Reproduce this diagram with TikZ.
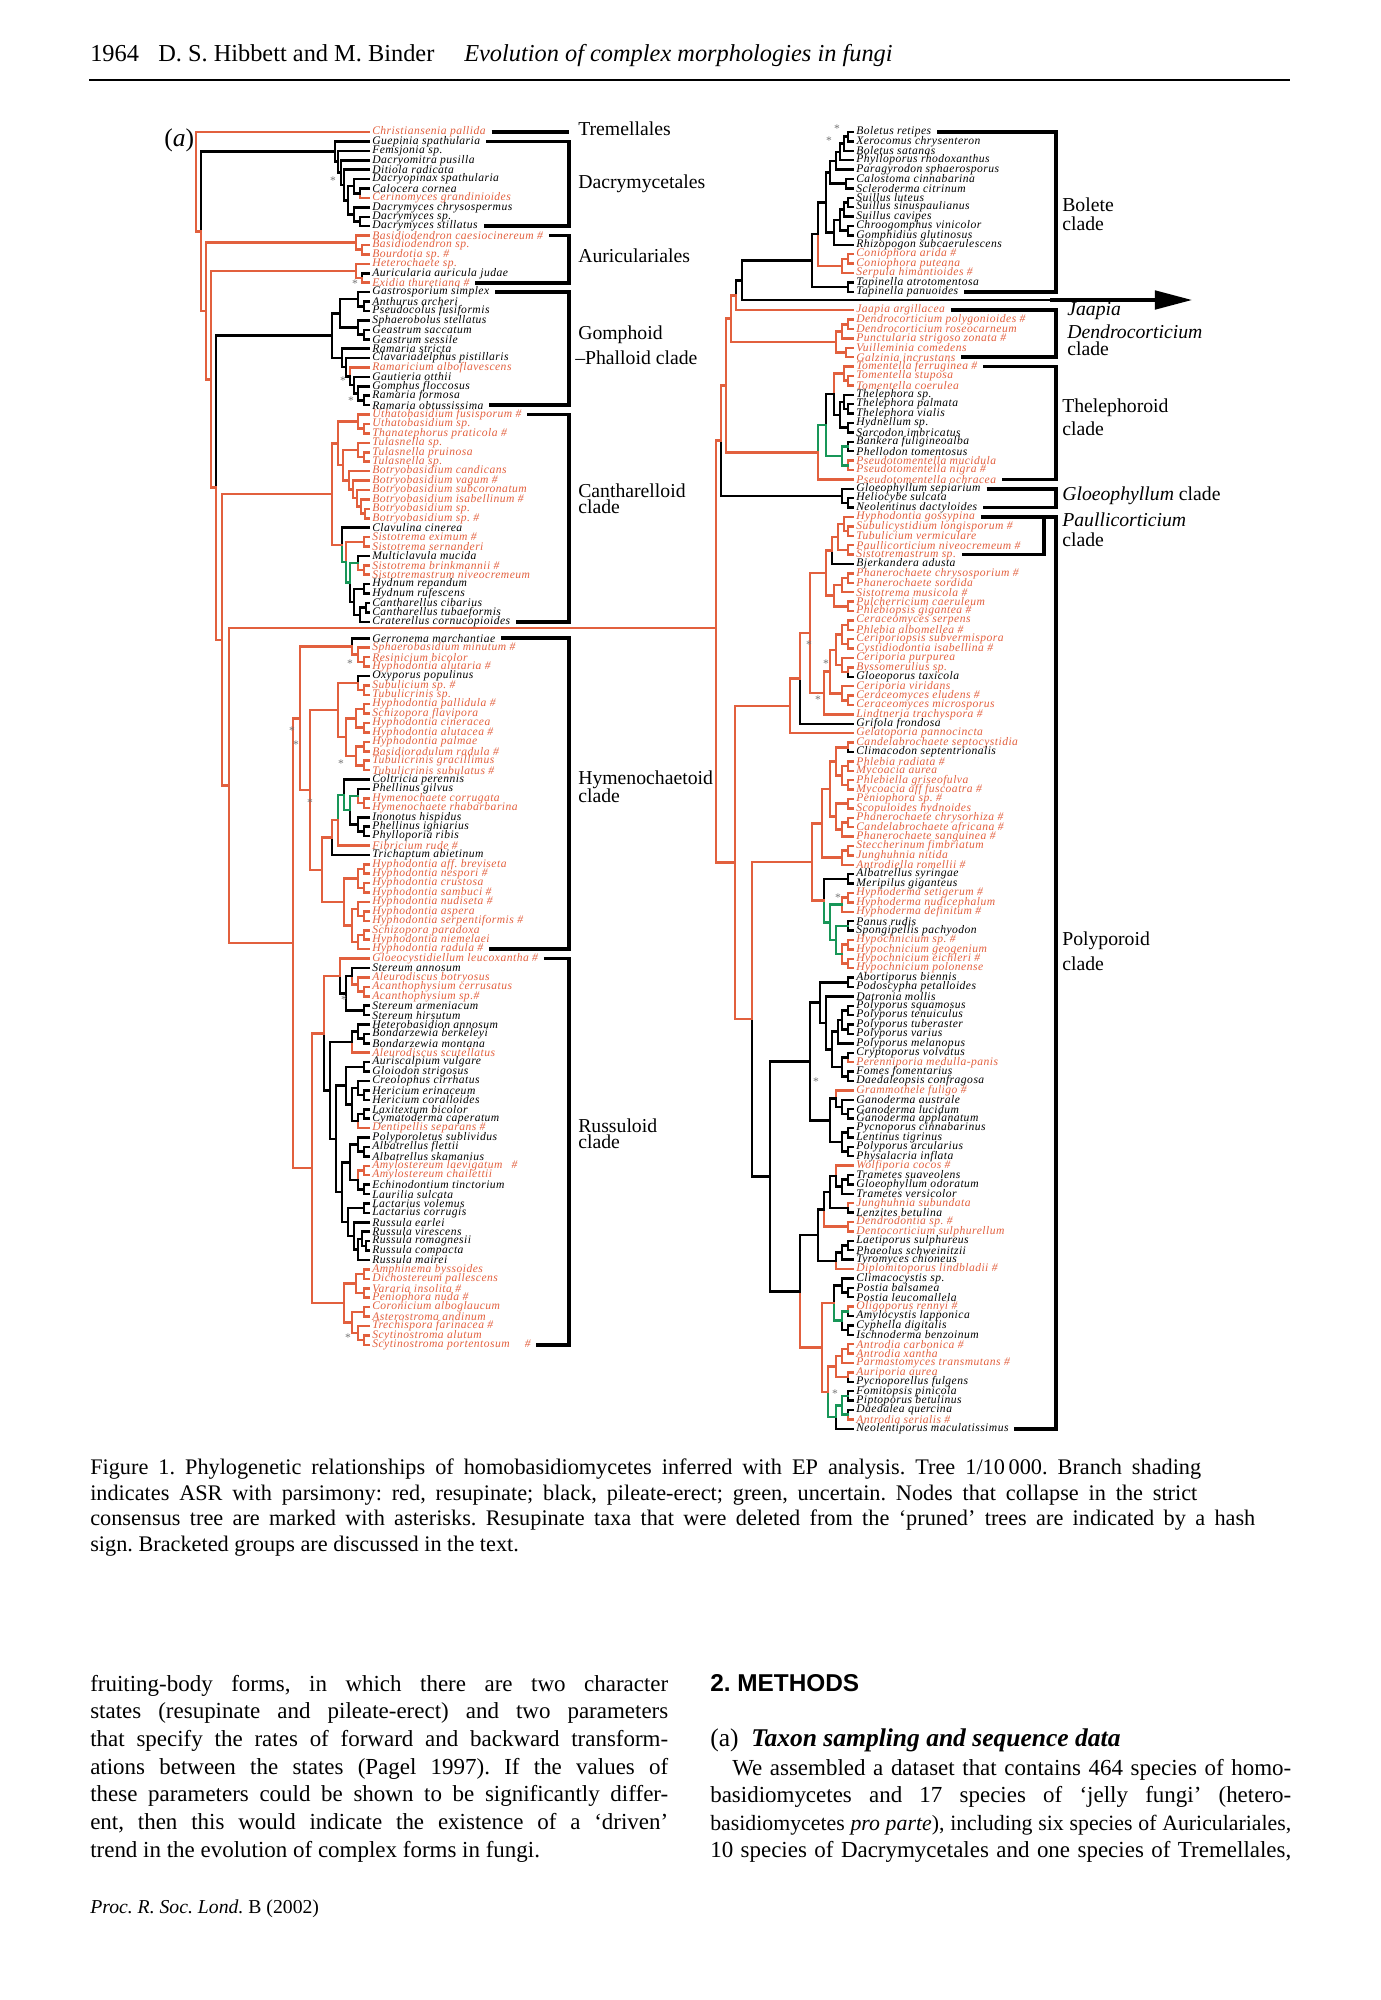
\documentclass[tikz,border=0pt]{standalone}
\usepackage{fontspec}
\setmainfont{Liberation Serif}
\setsansfont{Liberation Sans}
\newfontfamily\taxfont[LetterSpace=4]{Liberation Serif}
\usetikzlibrary{arrows.meta}
\frenchspacing

\definecolor{rd}{RGB}{226,96,62}
\definecolor{gn}{RGB}{24,150,88}
\colorlet{bk}{black}

\tikzset{every picture/.style={line width=1.1pt}}
\tikzset{
  taxon/.style={anchor=west,inner sep=0pt,font=\taxfont\itshape\fontsize{5}{6}\selectfont},
  brk/.style={line width=1.6pt,black},
  clab/.style={anchor=west,inner sep=0pt,font=\fontsize{8.5}{9}\selectfont},
  star/.style={inner sep=0pt,text=black!55,font=\fontsize{5}{5}\selectfont},
  txt/.style={anchor=base west,inner sep=0pt,font=\fontsize{9.9}{11.9}\selectfont},
}

% join two children at x: name, x, child a, child b, colour a, colour b
\newcommand\jn[6]{%
  \path (#3) -- (#4) coordinate[midway] (#1m);
  \coordinate (#1x) at (#2,0);
  \coordinate (#1) at (#1x |- #1m);
  \draw[color=#5,line cap=rect] (#3) -| (#1);
  \draw[color=#6,line cap=rect] (#4) -| (#1);}
\newcommand\jbox[2]{\makebox[#1][s]{#2}}

\begin{document}
\begin{tikzpicture}[x=0.431pt,y=0.431pt,yscale=-1,xscale=1]
\useasboundingbox (0,0) rectangle (1380,2000);

% Header
\node[txt,font=\fontsize{10.5}{12}\selectfont] (hdnum) at (89,61) {1964};
\node[txt,font=\fontsize{10.5}{12}\selectfont] (hdauth) at (157,61) {D. S. Hibbett and M. Binder};
\node[txt,font=\itshape\fontsize{10.5}{12}\selectfont] (hdtitle) at (463,61) {Evolution of complex morphologies in fungi};
\coordinate (rule1) at (89,80);
\coordinate (rule2) at (1290,80);
\draw[line width=0.8pt] (rule1) -- (rule2);

\node[txt,font=\fontsize{11}{12}\selectfont] (panel) at (163,146) {(\textit{a})};

% Taxa, left half
\foreach \i/\cl/\nm in {1/rd/Christiansenia pallida,2/bk/Guepinia spathularia,3/bk/Femsjonia sp.,4/bk/Dacryomitra pusilla,5/bk/Ditiola radicata,6/bk/Dacryopinax spathularia,7/bk/Calocera cornea,8/rd/Cerinomyces grandinioides,9/bk/Dacrymyces chrysospermus,10/bk/Dacrymyces sp.,11/bk/Dacrymyces stillatus,12/rd/Basidiodendron caesiocinereum \#,13/rd/Basidiodendron sp.,14/rd/Bourdotia sp. \#,15/rd/Heterochaete sp.,16/bk/Auricularia auricula judae,17/rd/Exidia thuretiana \#,18/bk/Gastrosporium simplex,19/bk/Anthurus archeri,20/bk/Pseudocolus fusiformis,21/bk/Sphaerobolus stellatus,22/bk/Geastrum saccatum,23/bk/Geastrum sessile,24/bk/Ramaria stricta,25/bk/Clavariadelphus pistillaris,26/rd/Ramaricium alboflavescens,27/bk/Gautieria otthii,28/bk/Gomphus floccosus,29/bk/Ramaria formosa,30/bk/Ramaria obtussissima,31/rd/Uthatobasidium fusisporum \#,32/rd/Uthatobasidium sp.,33/rd/Thanatephorus praticola \#,34/rd/Tulasnella sp.,35/rd/Tulasnella pruinosa,36/rd/Tulasnella sp.,37/rd/Botryobasidium candicans,38/rd/Botryobasidium vagum \#,39/rd/Botryobasidium subcoronatum,40/rd/Botryobasidium isabellinum \#,41/rd/Botryobasidium sp.,42/rd/Botryobasidium sp. \#,43/bk/Clavulina cinerea,44/rd/Sistotrema eximum \#,45/rd/Sistotrema sernanderi,46/bk/Multiclavula mucida,47/rd/Sistotrema brinkmannii \#,48/rd/Sistotremastrum niveocremeum,49/bk/Hydnum repandum,50/bk/Hydnum rufescens,51/bk/Cantharellus cibarius,52/bk/Cantharellus tubaeformis,53/bk/Craterellus cornucopioides,54/bk/Gerronema marchantiae,55/rd/Sphaerobasidium minutum \#,56/rd/Resinicium bicolor,57/rd/Hyphodontia alutaria \#,58/bk/Oxyporus populinus,59/rd/Subulicium sp. \#,60/rd/Tubulicrinis sp.,61/rd/Hyphodontia pallidula \#,62/rd/Schizopora flavipora,63/rd/Hyphodontia cineracea,64/rd/Hyphodontia alutacea \#,65/rd/Hyphodontia palmae,66/rd/Basidioradulum radula \#,67/rd/Tubulicrinis gracillimus,68/rd/Tubulicrinis subulatus \#,69/bk/Coltricia perennis,70/bk/Phellinus gilvus,71/rd/Hymenochaete corrugata,72/rd/Hymenochaete rhabarbarina,73/bk/Inonotus hispidus,74/bk/Phellinus igniarius,75/bk/Phylloporia ribis,76/rd/Fibricium rude \#,77/bk/Trichaptum abietinum,78/rd/Hyphodontia aff. breviseta,79/rd/Hyphodontia nespori \#,80/rd/Hyphodontia crustosa,81/rd/Hyphodontia sambuci \#,82/rd/Hyphodontia nudiseta \#,83/rd/Hyphodontia aspera,84/rd/Hyphodontia serpentiformis \#,85/rd/Schizopora paradoxa,86/rd/Hyphodontia niemelaei,87/rd/Hyphodontia radula \#,88/rd/Gloeocystidiellum leucoxantha \#,89/bk/Stereum annosum,90/rd/Aleurodiscus botryosus,91/rd/Acanthophysium cerrusatus,92/rd/Acanthophysium sp.\#,93/bk/Stereum armeniacum,94/bk/Stereum hirsutum,95/bk/Heterobasidion annosum,96/bk/Bondarzewia berkeleyi,97/bk/Bondarzewia montana,98/rd/Aleurodiscus scutellatus,99/bk/Auriscalpium vulgare,100/bk/Gloiodon strigosus,101/bk/Creolophus cirrhatus,102/bk/Hericium erinaceum,103/bk/Hericium coralloides,104/bk/Laxitextum bicolor,105/bk/Cymatoderma caperatum,106/rd/Dentipellis separans \#,107/bk/Polyporoletus sublividus,108/bk/Albatrellus flettii,109/bk/Albatrellus skamanius,110/rd/Amylostereum laevigatum \enspace\#,111/rd/Amylostereum chailettii,112/bk/Echinodontium tinctorium,113/bk/Laurilia sulcata,114/bk/Lactarius volemus,115/bk/Lactarius corrugis,116/bk/Russula earlei,117/bk/Russula virescens,118/bk/Russula romagnesii,119/bk/Russula compacta,120/bk/Russula mairei,121/rd/Amphinema byssoides,122/rd/Dichostereum pallescens,123/rd/Vararia insolita \#,124/rd/Peniophora nuda \#,125/rd/Coronicium alboglaucum,126/rd/Asterostroma andinum,127/rd/Trechispora farinacea \#,128/rd/Scytinostroma alutum,129/rd/Scytinostroma portentosum \quad\#}{
  \pgfmathsetmacro\yy{132+9.42*(\i-1)+7*(\i>53)}
  \coordinate (l\i) at (369,\yy);
  \node[taxon,text=\cl] (tl\i) at (371,\yy) {\nm};
}

% Taxa, right half
\foreach \i/\cl/\nm in {1/bk/Boletus retipes,2/bk/Xerocomus chrysenteron,3/bk/Boletus satanas,4/bk/Phylloporus rhodoxanthus,5/bk/Paragyrodon sphaerosporus,6/bk/Calostoma cinnabarina,7/bk/Scleroderma citrinum,8/bk/Suillus luteus,9/bk/Suillus sinuspaulianus,10/bk/Suillus cavipes,11/bk/Chroogomphus vinicolor,12/bk/Gomphidius glutinosus,13/bk/Rhizopogon subcaerulescens,14/rd/Coniophora arida \#,15/rd/Coniophora puteana,16/rd/Serpula himantioides \#,17/bk/Tapinella atrotomentosa,18/bk/Tapinella panuoides,19/rd/Jaapia argillacea,20/rd/Dendrocorticium polygonioides \#,21/rd/Dendrocorticium roseocarneum,22/rd/Punctularia strigoso zonata \#,23/rd/Vuilleminia comedens,24/rd/Galzinia incrustans,25/rd/Tomentella ferruginea \#,26/rd/Tomentella stuposa,27/rd/Tomentella coerulea,28/bk/Thelephora sp.,29/bk/Thelephora palmata,30/bk/Thelephora vialis,31/bk/Hydnellum sp.,32/bk/Sarcodon imbricatus,33/bk/Bankera fuligineoalba,34/bk/Phellodon tomentosus,35/rd/Pseudotomentella mucidula,36/rd/Pseudotomentella nigra \#,37/rd/Pseudotomentella ochracea,38/bk/Gloeophyllum sepiarium,39/bk/Heliocybe sulcata,40/bk/Neolentinus dactyloides,41/rd/Hyphodontia gossypina,42/rd/Subulicystidium longisporum \#,43/rd/Tubulicium vermiculare,44/rd/Paullicorticium niveocremeum \#,45/rd/Sistotremastrum sp.,46/bk/Bjerkandera adusta,47/rd/Phanerochaete chrysosporium \#,48/rd/Phanerochaete sordida,49/rd/Sistotrema musicola \#,50/rd/Pulcherricium caeruleum,51/rd/Phlebiopsis gigantea \#,52/rd/Ceraceomyces serpens,53/rd/Phlebia albomellea \#,54/rd/Ceriporiopsis subvermispora,55/rd/Cystidiodontia isabellina \#,56/rd/Ceriporia purpurea,57/rd/Byssomerulius sp.,58/bk/Gloeoporus taxicola,59/rd/Ceriporia viridans,60/rd/Ceraceomyces eludens \#,61/rd/Ceraceomyces microsporus,62/rd/Lindtneria trachyspora \#,63/bk/Grifola frondosa,64/rd/Gelatoporia pannocincta,65/rd/Candelabrochaete septocystidia,66/bk/Climacodon septentrionalis,67/rd/Phlebia radiata \#,68/rd/Mycoacia aurea,69/rd/Phlebiella griseofulva,70/rd/Mycoacia aff fuscoatra \#,71/rd/Peniophora sp. \#,72/rd/Scopuloides hydnoides,73/rd/Phanerochaete chrysorhiza \#,74/rd/Candelabrochaete africana \#,75/rd/Phanerochaete sanguinea \#,76/rd/Steccherinum fimbriatum,77/rd/Junghuhnia nitida,78/rd/Antrodiella romellii \#,79/bk/Albatrellus syringae,80/bk/Meripilus giganteus,81/rd/Hyphoderma setigerum \#,82/rd/Hyphoderma nudicephalum,83/rd/Hyphoderma definitum \#,84/bk/Panus rudis,85/bk/Spongipellis pachyodon,86/rd/Hypochnicium sp. \#,87/rd/Hypochnicium geogenium,88/rd/Hypochnicium eichleri \#,89/rd/Hypochnicium polonense,90/bk/Abortiporus biennis,91/bk/Podoscypha petalloides,92/bk/Datronia mollis,93/bk/Polyporus squamosus,94/bk/Polyporus tenuiculus,95/bk/Polyporus tuberaster,96/bk/Polyporus varius,97/bk/Polyporus melanopus,98/bk/Cryptoporus volvatus,99/rd/Perenniporia medulla-panis,100/bk/Fomes fomentarius,101/bk/Daedaleopsis confragosa,102/rd/Grammothele fuligo \#,103/bk/Ganoderma australe,104/bk/Ganoderma lucidum,105/bk/Ganoderma applanatum,106/bk/Pycnoporus cinnabarinus,107/bk/Lentinus tigrinus,108/bk/Polyporus arcularius,109/bk/Physalacria inflata,110/rd/Wolfiporia cocos \#,111/bk/Trametes suaveolens,112/bk/Gloeophyllum odoratum,113/bk/Trametes versicolor,114/rd/Junghuhnia subundata,115/bk/Lenzites betulina,116/rd/Dendrodontia sp. \#,117/rd/Dentocorticium sulphurellum,118/bk/Laetiporus sulphureus,119/bk/Phaeolus schweinitzii,120/bk/Tyromyces chioneus,121/rd/Diplomitoporus lindbladii \#,122/bk/Climacocystis sp.,123/bk/Postia balsamea,124/bk/Postia leucomallela,125/rd/Oligoporus rennyi \#,126/bk/Amylocystis lapponica,127/bk/Cyphella digitalis,128/bk/Ischnoderma benzoinum,129/rd/Antrodia carbonica \#,130/rd/Antrodia xantha,131/rd/Parmastomyces transmutans \#,132/rd/Auriporia aurea,133/bk/Pycnoporellus fulgens,134/bk/Fomitopsis pinicola,135/bk/Piptoporus betulinus,136/bk/Daedalea quercina,137/rd/Antrodia serialis \#,138/bk/Neolentiporus maculatissimus}{
  \pgfmathsetmacro\yy{132+9.4*(\i-1)+9*(\i>18)}
  \coordinate (r\i) at (853,\yy);
  \node[taxon,text=\cl] (tr\i) at (855,\yy) {\nm};
}

% Tree, left half
\foreach \nd/\px/\ca/\cb/\ka/\kb in {d1/360/l7/l8/bk/rd,d2/354/l6/d1/bk/bk,d3/360/l10/l11/bk/bk,d4/354/l9/d3/bk/bk,d5/348/d2/d4/bk/bk,d6/344/l5/d5/bk/bk,d7/341/l4/d6/bk/bk,d8/338/l3/d7/bk/bk,d9/335/l2/d8/bk/bk,
  a1/362/l13/l14/rd/rd,a2/356/l12/a1/rd/rd,a3/362/l16/l17/bk/rd,a4/356/l15/a3/rd/rd,
  g1/364/l19/l20/bk/bk,g2/358/l18/g1/bk/bk,g3/364/l22/l23/bk/bk,g4/358/l21/g3/bk/bk,g5/340/g2/g4/bk/bk,g6/364/l29/l30/bk/bk,g7/358/l28/g6/bk/bk,g8/354/l27/g7/bk/bk,g9/350/l26/g8/rd/bk,g10/346/l25/g9/bk/bk,g11/342/l24/g10/bk/bk,g12/332/g5/g11/bk/bk,
  c1/364/l32/l33/rd/rd,c2/358/l31/c1/rd/rd,c3/364/l35/l36/rd/rd,c4/358/l34/c3/rd/rd,c5/365/l41/l42/rd/rd,c6/361/l40/c5/rd/rd,c7/357/l39/c6/rd/rd,c8/353/l38/c7/rd/rd,c9/349/l37/c8/rd/rd,c10/343/c4/c9/rd/rd,c11/338/c2/c10/rd/rd,c12/364/l44/l45/rd/rd,c13/364/l47/l48/rd/rd,c14/358/l46/c13/bk/rd,c15/364/l49/l50/bk/bk,c16/366/l51/l52/bk/bk,c17/360/c16/l53/bk/bk,c18/354/c15/c17/bk/bk,c19/350/c14/c18/gn/bk,c20/346/c12/c19/rd/gn,c21/342/l43/c20/bk/gn,c22/332/c11/c21/rd/rd,
  h1/364/l56/l57/rd/rd,h2/358/l55/h1/rd/rd,h3/352/l54/h2/bk/rd,h4/364/l59/l60/rd/rd,h5/358/l58/h4/bk/rd,h6/364/l61/l62/rd/rd,h7/364/l63/l64/rd/rd,h8/356/h6/h7/rd/rd,h9/364/l65/l66/rd/rd,h10/364/l67/l68/rd/rd,h11/356/h9/h10/rd/rd,h12/346/h8/h11/rd/rd,h13/338/h5/h12/rd/rd,h14/364/l71/l72/rd/rd,h15/358/l70/h14/bk/rd,h16/364/l74/l75/bk/bk,h17/358/l73/h16/bk/bk,h18/350/h15/h17/gn/bk,h19/344/l69/h18/bk/gn,h20/338/h19/l76/gn/rd,h21/332/h20/l77/rd/bk,h22/364/l78/l79/rd/rd,h23/364/l80/l81/rd/rd,h24/358/h22/h23/rd/rd,h25/364/l83/l84/rd/rd,h26/358/l82/h25/rd/rd,h27/364/l85/l86/rd/rd,h28/358/h27/l87/rd/rd,h29/352/h26/h28/rd/rd,h30/344/h24/h29/rd/rd,h31/322/h21/h30/rd/rd,h32/310/h13/h31/rd/rd,h33/300/h3/h32/rd/rd,
  u1/364/l91/l92/rd/rd,u2/358/l90/u1/rd/rd,u3/352/l89/u2/bk/rd,u4/364/l93/l94/bk/bk,u5/346/u3/u4/bk/bk,u6/340/l88/u5/rd/bk,u7/364/l96/l97/bk/bk,u8/358/l95/u7/bk/bk,u9/352/u8/l98/bk/rd,u10/364/l99/l100/bk/bk,u11/364/l102/l103/bk/bk,u12/358/l101/u11/bk/bk,u13/364/l104/l105/bk/bk,u14/358/u13/l106/bk/rd,u15/352/u12/u14/bk/bk,u16/346/u10/u15/bk/bk,u17/364/l108/l109/bk/bk,u18/358/l107/u17/bk/bk,u19/364/l110/l111/rd/rd,u20/364/l112/l113/bk/bk,u21/358/u19/u20/rd/bk,u22/350/u18/u21/bk/bk,u23/364/l114/l115/bk/bk,u24/366/l118/l119/bk/bk,u25/362/l117/u24/bk/bk,u26/358/u25/l120/bk/bk,u27/354/l116/u26/bk/bk,u28/348/u23/u27/bk/bk,u29/342/u22/u28/bk/bk,u30/336/u16/u29/bk/bk,u31/330/u9/u30/bk/bk,u32/324/u6/u31/rd/bk,u33/364/l121/l122/rd/rd,u34/364/l123/l124/rd/rd,u35/356/u33/u34/rd/rd,u36/364/l125/l126/rd/rd,u37/364/l128/l129/rd/rd,u38/358/l127/u37/rd/rd,u39/352/u36/u38/rd/rd,u40/344/u35/u39/rd/rd,u41/312/u32/u40/rd/rd,
  hr/293/h33/u41/rd/rd}{
  \edef\tmp{\noexpand\jn{\nd}{\px}{\ca}{\cb}{\ka}{\kb}}\tmp
}

% Tree, right half
\coordinate (arrbase) at (1050,300);
\coordinate (arrtip) at (1192,300);
\foreach \nd/\px/\ca/\cb/\ka/\kb in {bo1/848/r1/r2/bk/bk,bo2/844/bo1/r3/bk/bk,bo3/840/bo2/r4/bk/bk,bo4/836/bo3/r5/bk/bk,bo5/846/r6/r7/bk/bk,bo6/830/bo4/bo5/bk/bk,bo7/848/r8/r9/bk/bk,bo8/844/bo7/r10/bk/bk,bo9/848/r11/r12/bk/bk,bo10/840/bo8/bo9/bk/bk,bo11/834/bo10/r13/bk/bk,bo12/826/bo6/bo11/bk/bk,bo13/848/r14/r15/rd/rd,bo14/842/bo13/r16/rd/rd,bo15/818/bo12/bo14/bk/rd,bo16/848/r17/r18/bk/bk,bo17/812/bo15/bo16/bk/bk,
  qa/742/bo17/arrbase/bk/bk,qb/736/qa/r19/bk/rd,
  dc1/848/r20/r21/rd/rd,dc2/842/dc1/r22/rd/rd,dc3/846/r23/r24/rd/rd,dc4/836/dc2/dc3/rd/rd,qc/731/qb/dc4/rd/rd,
  th1/848/r26/r27/rd/rd,th2/844/r25/th1/rd/rd,th3/848/r29/r30/bk/bk,th4/844/r28/th3/bk/bk,th5/848/r31/r32/bk/bk,th6/840/th4/th5/bk/bk,th7/834/th2/th6/rd/bk,th8/848/r33/r34/bk/bk,th9/848/r35/r36/rd/rd,th10/842/th8/th9/gn/gn,th11/826/th7/th10/bk/gn,th12/818/th11/r37/gn/rd,qd/726/qc/th12/rd/rd,
  gl1/848/r39/r40/bk/bk,gl2/842/r38/gl1/bk/bk,qe/721/qd/gl2/rd/bk,
  pa1/848/r42/r43/rd/rd,pa2/844/r41/pa1/rd/rd,pa3/848/r44/r45/rd/rd,pa4/838/pa2/pa3/rd/rd,pa5/832/pa4/r46/rd/bk,pb1/848/r47/r48/rd/rd,pb2/842/pb1/r49/rd/rd,pb3/848/r50/r51/rd/rd,pb4/834/pb2/pb3/rd/rd,pc1/826/pa5/pb4/rd/rd,
  pd1/848/r52/r53/rd/rd,pd2/848/r54/r55/rd/rd,pd3/842/pd1/pd2/rd/rd,pd4/848/r57/r58/rd/bk,pd5/842/r56/pd4/rd/rd,pd6/836/pd3/pd5/rd/rd,pd7/848/r60/r61/rd/rd,pd8/842/r59/pd7/rd/rd,pd9/830/pd6/pd8/rd/rd,pd10/824/pd9/r62/rd/rd,pe1/810/pc1/pd10/rd/rd,pe2/800/pe1/r63/rd/bk,pe3/790/pe2/r64/rd/rd,
  pf1/848/r65/r66/rd/bk,pf2/848/r67/r68/rd/rd,pf3/848/r69/r70/rd/rd,pf4/842/pf2/pf3/rd/rd,pf5/836/pf1/pf4/rd/rd,pf6/848/r71/r72/rd/rd,pf7/848/r73/r74/rd/rd,pf8/842/pf7/r75/rd/rd,pf9/836/pf6/pf8/rd/rd,pf10/830/pf5/pf9/rd/rd,pf11/848/r76/r77/rd/rd,pf12/842/pf11/r78/rd/rd,pf13/822/pf10/pf12/rd/rd,
  pg1/848/r79/r80/bk/bk,pg2/848/r81/r82/rd/rd,pg3/842/pg2/r83/rd/rd,pg4/848/r84/r85/bk/bk,pg5/848/r86/r87/rd/rd,pg6/848/r88/r89/rd/rd,pg7/842/pg5/pg6/rd/rd,pg8/836/pg4/pg7/gn/gn,pg9/830/pg3/pg8/gn/gn,pg10/824/pg1/pg9/bk/gn,pg11/812/pf13/pg10/rd/rd,
  ph1/848/r90/r91/bk/bk,ph2/848/r93/r94/bk/bk,ph3/848/r95/r96/bk/bk,ph4/842/ph2/ph3/bk/bk,ph5/838/ph4/r97/bk/bk,ph6/848/r98/r99/bk/rd,ph7/848/r100/r101/bk/bk,ph8/842/ph6/ph7/bk/bk,ph9/832/ph5/ph8/bk/bk,ph10/826/r92/ph9/bk/bk,ph11/820/ph1/ph10/bk/bk,ph12/848/r104/r105/bk/bk,ph13/842/r103/ph12/bk/bk,ph14/836/r102/ph13/rd/bk,ph15/848/r106/r107/bk/bk,ph16/848/r108/r109/bk/bk,ph17/842/ph15/ph16/bk/bk,ph18/830/ph14/ph17/bk/bk,ph19/810/ph11/ph18/bk/bk,
  pi1/848/r111/r112/bk/bk,pi2/842/pi1/r113/bk/bk,pi3/836/r110/pi2/rd/bk,pi4/848/r114/r115/rd/bk,pi5/830/pi3/pi4/bk/bk,pi6/848/r116/r117/rd/rd,pi7/824/pi5/pi6/bk/rd,pi8/848/r118/r119/bk/bk,pi9/842/pi8/r120/bk/bk,pi10/836/pi9/r121/bk/rd,pi11/818/pi7/pi10/bk/bk,
  pj1/848/r123/r124/bk/bk,pj2/842/r122/pj1/bk/bk,pj3/848/r125/r126/rd/bk,pj4/848/r127/r128/bk/bk,pj5/842/pj3/pj4/gn/bk,pj6/834/pj2/pj5/bk/gn,pj7/848/r129/r130/rd/rd,pj8/842/pj7/r131/rd/rd,pj9/848/r132/r133/rd/bk,pj10/836/pj8/pj9/rd/rd,pj11/848/r134/r135/bk/bk,pj12/848/r136/r137/bk/rd,pj13/842/pj11/pj12/gn/gn,pj14/836/pj13/r138/gn/bk,pj15/828/pj10/pj14/rd/gn,pj16/822/pj6/pj15/rd/rd,pj17/800/pi11/pj16/bk/rd,
  pk1/770/ph19/pj17/bk/bk,pk2/752/pg11/pk1/rd/bk,pk3/735/pe3/pk2/rd/rd}{
  \edef\tmp{\noexpand\jn{\nd}{\px}{\ca}{\cb}{\ka}{\kb}}\tmp
}
\draw[line width=1.4pt,-{Triangle[length=16pt,width=8pt]}] (arrbase) -- (arrtip);

% Root: right half joins the left backbone
\coordinate (rroot) at (716,628);
\draw[rd,line cap=rect] (qe) -| (rroot);
\draw[rd,line cap=rect] (pk3) -| (rroot);
\foreach \nd/\px/\ca/\cb/\ka/\kb in {k7/229/rroot/hr/rd/rd,k6/222/c22/k7/rd/rd,k5/216/g12/k6/bk/rd,k4/211/a4/k5/rd/rd,k3/206/a2/k4/rd/rd,k2/201/d9/k3/bk/rd,k1/196/l1/k2/rd/rd}{
  \edef\tmp{\noexpand\jn{\nd}{\px}{\ca}{\cb}{\ka}{\kb}}\tmp
}

% Asterisks
\foreach \sx/\sy [count=\k] in {333/181,355/284,343/381,351/401,350/664,292/731,296/745,310/803,341/764,344/1000,348/1338,837/129,829/141,809/645,826/664,818/700,838/898,816/1082,835/1394}
  \node[star] (st\k) at (\sx,\sy) {*};

% Brackets
\coordinate (brL) at (569,0);
\coordinate (brR) at (1056,0);
\coordinate (brP) at (1044,0);
\draw[brk] ([xshift=2pt]tl1.east) -- (tl1.east -| brL);
\foreach \p/\q in {2/11,12/17,18/30,31/53,54/87,88/129}
  \draw[brk] ([xshift=2pt]tl\p.east) -- (tl\p.east -| brL) -- (tl\q.east -| brL) -- ([xshift=2pt]tl\q.east);
\foreach \p/\q in {1/18,19/24,25/37,38/40,41/138}
  \draw[brk] ([xshift=2pt]tr\p.east) -- (tr\p.east -| brR) -- (tr\q.east -| brR) -- ([xshift=2pt]tr\q.east);
\draw[brk] (tr41.east -| brP) -- (tr45.east -| brP) -- ([xshift=2pt]tr45.east);

% Clade labels
\node[clab] (labTre) at (577,129) {Tremellales};
\node[clab] (labDac) at (577,184) {Dacrymycetales};
\node[clab] (labAur) at (577,256) {Auriculariales};
\node[clab] (labGom) at (577,335) {Gomphoid};
\node[clab] (labPha) at (574,358) {–Phalloid clade};
\node[clab] (labCan) at (577,491) {Cantharelloid};
\node[clab] (labCanb) at (577,507) {clade};
\node[clab] (labHym) at (577,780) {Hymenochaetoid};
\node[clab] (labHymb) at (577,796) {clade};
\node[clab] (labRus) at (577,1126) {Russuloid};
\node[clab] (labRusb) at (577,1142) {clade};
\node[clab] (labBol) at (1061,205) {Bolete};
\node[clab] (labBolb) at (1061,224) {clade};
\node[clab] (labJaa) at (1066,311) {\textit{Jaapia}};
\node[clab] (labDen) at (1066,332) {\textit{Dendrocorticium}};
\node[clab] (labJaab) at (1066,349) {clade};
\node[clab] (labThe) at (1061,408) {Thelephoroid};
\node[clab] (labTheb) at (1061,429) {clade};
\node[clab] (labGlo) at (1061,496) {\textit{Gloeophyllum} clade};
\node[clab] (labPau) at (1061,520) {\textit{Paullicorticium}};
\node[clab] (labPaub) at (1061,540) {clade};
\node[clab] (labPol) at (1061,941) {Polyporoid};
\node[clab] (labPolb) at (1061,964) {clade};

% Caption
\node[txt,font=\fontsize{9.6}{11.9}\selectfont] (cap1) at (89,1474) {\jbox{478.8pt}{Figure 1. Phylogenetic relationships of homobasidiomycetes inferred with EP analysis. Tree 1/10\,000. Branch shading}};
\node[txt,font=\fontsize{9.6}{11.9}\selectfont] (cap2) at (89,1500) {\jbox{477.1pt}{indicates ASR with parsimony: red, resupinate; black, pileate-erect; green, uncertain. Nodes that collapse in the strict}};
\node[txt,font=\fontsize{9.6}{11.9}\selectfont] (cap3) at (89,1525) {\jbox{502.1pt}{consensus tree are marked with asterisks. Resupinate taxa that were deleted from the ‘pruned’ trees are indicated by a hash}};
\node[txt,font=\fontsize{9.6}{11.9}\selectfont] (cap4) at (89,1551) {sign. Bracketed groups are discussed in the text.};

% Left column text
\node[txt] (bl1) at (89,1691) {\jbox{249.1pt}{fruiting-body forms, in which there are two character}};
\node[txt] (bl2) at (89,1718) {\jbox{249.1pt}{states (resupinate and pileate-erect) and two parameters}};
\node[txt] (bl3) at (89,1746) {\jbox{249.1pt}{that specify the rates of forward and backward transform-}};
\node[txt] (bl4) at (89,1774) {\jbox{249.1pt}{ations between the states (Pagel 1997). If the values of}};
\node[txt] (bl5) at (89,1801) {\jbox{249.1pt}{these parameters could be shown to be significantly differ-}};
\node[txt] (bl6) at (89,1829) {\jbox{249.1pt}{ent, then this would indicate the existence of a ‘driven’}};
\node[txt] (bl7) at (89,1857) {trend in the evolution of complex forms in fungi.};

% Right column text
\node[txt,font=\sffamily\bfseries\fontsize{10.5}{12}\selectfont] (meth) at (709,1691) {2. METHODS};
\node[txt,font=\fontsize{11}{12}\selectfont] (subh) at (709,1746) {(a)\enspace\textbf{\textit{Taxon sampling and sequence data}}};
\node[txt] (br1) at (731,1775) {\jbox{240.9pt}{We assembled a dataset that contains 464 species of homo-}};
\node[txt] (br2) at (709,1802) {\jbox{250.4pt}{basidiomycetes and 17 species of ‘jelly fungi’ (hetero-}};
\node[txt,font=\fontsize{9.4}{11.9}\selectfont] (br3) at (709,1830) {\jbox{250.4pt}{basidiomycetes \textit{pro parte}), including six species of Auriculariales,}};
\node[txt] (br4) at (709,1857) {\jbox{250.4pt}{10 species of Dacrymycetales and one species of Tremellales,}};

% Footer
\node[txt,font=\fontsize{8.5}{10}\selectfont] (foot) at (89,1913) {\textit{Proc. R. Soc. Lond.} B (2002)};

\end{tikzpicture}
\end{document}
